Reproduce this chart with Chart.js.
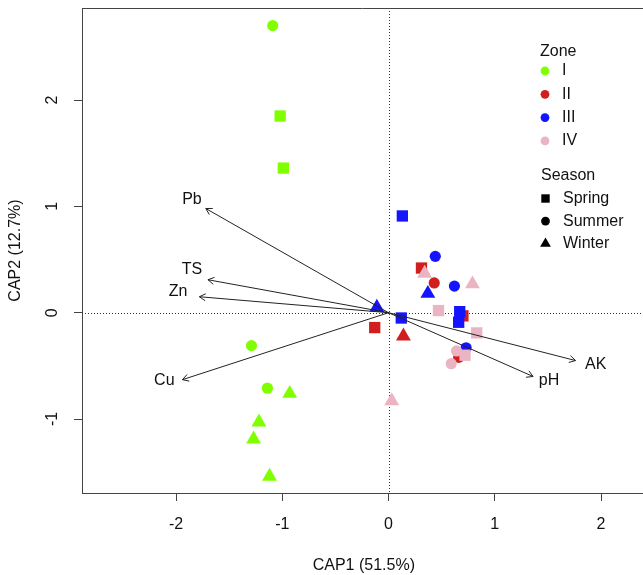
<!DOCTYPE html>
<html><head><meta charset="utf-8">
<style>html,body{margin:0;padding:0;background:#fff;overflow:hidden}#wrap{width:643px;height:575px}</style>
<script src="https://cdn.jsdelivr.net/npm/chart.js@4.4.0/dist/chart.umd.min.js"></script>
</head><body><div id="wrap"><canvas id="c" width="643" height="575"></canvas></div>
<script>
// ---- data ----
const zones = ['I', 'II', 'III', 'IV'];
const zoneColors = ['#7FFF00', '#D11F1F', '#1414FF', '#EBB4C3'];
const seasons = ['Spring', 'Summer', 'Winter'];
const seasonStyles = ['rect', 'circle', 'triangle'];

const zoneI_cap1 = [-1.02, -0.99, -1.09, -1.29, -1.14, -0.93, -1.22, -1.27, -1.12];
const zoneI_cap2 = [1.85, 1.36, 2.70, -0.31, -0.71, -0.76, -1.03, -1.19, -1.54];
const zoneI_season = ['Spring', 'Spring', 'Summer', 'Summer', 'Summer', 'Winter', 'Winter', 'Winter', 'Winter'];

const zoneII_cap1 = [0.31, 0.70, -0.13, 0.43, 0.66, 0.14];
const zoneII_cap2 = [0.42, -0.03, -0.14, 0.28, -0.42, -0.22];
const zoneII_season = ['Spring', 'Spring', 'Spring', 'Summer', 'Summer', 'Winter'];

const zoneIII_cap1 = [0.13, 0.67, 0.66, 0.12, 0.44, 0.62, 0.73, 0.37, -0.11];
const zoneIII_cap2 = [0.91, 0.01, -0.09, -0.05, 0.53, 0.25, -0.33, 0.18, 0.05];
const zoneIII_season = ['Spring', 'Spring', 'Spring', 'Spring', 'Summer', 'Summer', 'Summer', 'Winter', 'Winter'];

const zoneIV_cap1 = [0.47, 0.83, 0.72, 0.64, 0.59, 0.34, 0.79, 0.03];
const zoneIV_cap2 = [0.02, -0.19, -0.40, -0.36, -0.48, 0.37, 0.27, -0.83];
const zoneIV_season = ['Spring', 'Spring', 'Spring', 'Summer', 'Summer', 'Winter', 'Winter', 'Winter'];

const envVars = ['Pb', 'TS', 'Zn', 'Cu', 'AK', 'pH'];
const envCap1 = [-1.72, -1.70, -1.78, -1.94, 1.76, 1.36];
const envCap2 = [0.98, 0.31, 0.15, -0.63, -0.45, -0.60];
const envLabelCap1 = [-1.85, -1.85, -1.98, -2.11, 1.95, 1.51];
const envLabelCap2 = [1.06, 0.41, 0.20, -0.64, -0.49, -0.64];

const xTicks = [-2, -1, 0, 1, 2];
const yTicks = [-1, 0, 1, 2];
const xRange = [-2.885, 2.42];   // full plot range (right edge falls just outside the image)
const yRange = [-1.696, 2.866];
const xTitle = 'CAP1 (51.5%)';
const yTitle = 'CAP2 (12.7%)';

// ---- build datasets ----
const zoneData = [
  [zoneI_cap1, zoneI_cap2, zoneI_season],
  [zoneII_cap1, zoneII_cap2, zoneII_season],
  [zoneIII_cap1, zoneIII_cap2, zoneIII_season],
  [zoneIV_cap1, zoneIV_cap2, zoneIV_season]
];
// drawing layer (higher = drawn on top) for zone x season
const layer = {
  'I-Spring': 1, 'I-Summer': 1, 'I-Winter': 1,
  'II-Spring': 2, 'II-Winter': 3, 'IV-Winter': 4, 'II-Summer': 5,
  'III-Spring': 6, 'III-Winter': 7, 'III-Summer': 8,
  'IV-Spring': 9, 'IV-Summer': 10
};
const radiusFor = { rect: 8, circle: 5.6, triangle: 8.6 };
const datasets = [];
zones.forEach((z, zi) => {
  const [xs, ys, ss] = zoneData[zi];
  seasons.forEach((s, si) => {
    const pts = [];
    xs.forEach((v, i) => { if (ss[i] === s) pts.push({ x: v, y: ys[i] }); });
    if (!pts.length) return;
    const st = seasonStyles[si];
    datasets.push({
      label: z + ' ' + s, data: pts, pointStyle: st,
      pointRadius: radiusFor[st], pointHoverRadius: radiusFor[st],
      backgroundColor: zoneColors[zi], borderColor: zoneColors[zi], borderWidth: 0,
      showLine: false, order: 100 - layer[z + '-' + s]
    });
  });
});
envVars.forEach((v, i) => {
  datasets.push({
    label: v, data: [{ x: 0, y: 0 }, { x: envCap1[i], y: envCap2[i] }],
    showLine: true, borderColor: '#222', borderWidth: 1, pointRadius: 0, pointHoverRadius: 0, order: 0
  });
});

const F = '"Liberation Sans", Arial, Helvetica, sans-serif';
const overlay = {
  id: 'overlay',
  beforeDatasetsDraw(chart) {
    const { ctx, chartArea: a, scales: { x, y } } = chart;
    ctx.save();
    ctx.strokeStyle = '#333'; ctx.lineWidth = 1; ctx.setLineDash([1, 2]);
    const x0 = Math.round(x.getPixelForValue(0)) + 0.5, y0 = Math.round(y.getPixelForValue(0)) + 0.5;
    ctx.beginPath();
    ctx.moveTo(x0, a.top); ctx.lineTo(x0, a.bottom);
    ctx.moveTo(a.left, y0); ctx.lineTo(a.right, y0);
    ctx.stroke();
    ctx.restore();
  },
  afterDatasetsDraw(chart) {
    const { ctx, scales: { x, y } } = chart;
    ctx.save();
    ctx.strokeStyle = '#222'; ctx.lineWidth = 1;
    const ox = x.getPixelForValue(0), oy = y.getPixelForValue(0);
    envVars.forEach((v, i) => {
      const tx = x.getPixelForValue(envCap1[i]), ty = y.getPixelForValue(envCap2[i]);
      const ang = Math.atan2(ty - oy, tx - ox), L = 7, w = Math.PI / 6;
      ctx.beginPath();
      ctx.moveTo(tx - L * Math.cos(ang - w), ty - L * Math.sin(ang - w));
      ctx.lineTo(tx, ty);
      ctx.lineTo(tx - L * Math.cos(ang + w), ty - L * Math.sin(ang + w));
      ctx.stroke();
    });
    ctx.fillStyle = '#111'; ctx.font = '16px ' + F; ctx.textAlign = 'center'; ctx.textBaseline = 'middle';
    envVars.forEach((v, i) => {
      ctx.fillText(v, x.getPixelForValue(envLabelCap1[i]), y.getPixelForValue(envLabelCap2[i]));
    });
    ctx.restore();
  },
  afterDraw(chart) {
    const { ctx, chartArea: a, scales: { x, y } } = chart;
    ctx.save();
    // top frame line
    ctx.strokeStyle = '#444'; ctx.lineWidth = 1;
    ctx.beginPath(); ctx.moveTo(a.left, a.top + 0.5); ctx.lineTo(a.right, a.top + 0.5); ctx.stroke();
    ctx.fillStyle = '#111'; ctx.font = '16px ' + F; ctx.textAlign = 'center'; ctx.textBaseline = 'middle';
    // x tick labels
    xTicks.forEach(t => ctx.fillText(String(t), x.getPixelForValue(t), a.bottom + 32));
    // x title
    ctx.fillText(xTitle, x.getPixelForValue((xRange[0] + xRange[1]) / 2), a.bottom + 73);
    // y tick labels (rotated)
    yTicks.forEach(t => {
      ctx.save(); ctx.translate(a.left - 29, y.getPixelForValue(t)); ctx.rotate(-Math.PI / 2);
      ctx.fillText(String(t), 0, 0); ctx.restore();
    });
    ctx.save(); ctx.translate(a.left - 66, y.getPixelForValue((yRange[0] + yRange[1]) / 2)); ctx.rotate(-Math.PI / 2);
    ctx.fillText(yTitle, 0, 0); ctx.restore();
    // legend
    ctx.textAlign = 'left';
    ctx.fillText('Zone', 540, 52);
    zones.forEach((z, i) => {
      const cy = 71 + i * 23.3;
      ctx.fillStyle = zoneColors[i];
      ctx.beginPath(); ctx.arc(545, cy, 4.4, 0, Math.PI * 2); ctx.fill();
      ctx.fillStyle = '#111'; ctx.fillText(z, 562, cy);
    });
    ctx.fillText('Season', 541, 176);
    seasons.forEach((s, i) => {
      const cy = 198.5 + i * 22.6, cx = 545.5;
      ctx.fillStyle = '#000';
      ctx.beginPath();
      if (seasonStyles[i] === 'rect') ctx.rect(cx - 4.2, cy - 4.2, 8.4, 8.4);
      else if (seasonStyles[i] === 'circle') ctx.arc(cx, cy, 4.4, 0, Math.PI * 2);
      else { ctx.moveTo(cx, cy - 6.2); ctx.lineTo(cx + 5.4, cy + 3.1); ctx.lineTo(cx - 5.4, cy + 3.1); ctx.closePath(); }
      ctx.fill();
      ctx.fillStyle = '#111'; ctx.fillText(s, 563, cy);
    });
    ctx.restore();
  }
};

Chart.defaults.font.family = F;
new Chart(document.getElementById('c'), {
  type: 'scatter',
  data: { datasets },
  options: {
    responsive: false, animation: false, devicePixelRatio: 1,
    layout: { autoPadding: false, padding: { top: 8, left: 0, right: 0, bottom: 0 } },
    plugins: { legend: { display: false }, tooltip: { enabled: false } },
    events: [],
    scales: {
      x: {
        type: 'linear', position: 'bottom', min: xRange[0], max: 2.395,
        afterBuildTicks: s => { s.ticks = xTicks.map(v => ({ value: v })); },
        afterFit: s => { s.height = 82; },
        ticks: { display: false },
        grid: { drawOnChartArea: false, drawTicks: true, tickLength: 8, color: '#444', tickColor: '#444' },
        border: { display: true, color: '#444', width: 1 }
      },
      y: {
        type: 'linear', position: 'left', min: yRange[0], max: yRange[1],
        afterBuildTicks: s => { s.ticks = yTicks.map(v => ({ value: v })); },
        afterFit: s => { s.width = 82; },
        ticks: { display: false },
        grid: { drawOnChartArea: false, drawTicks: true, tickLength: 8, color: '#444', tickColor: '#444' },
        border: { display: true, color: '#444', width: 1 }
      }
    }
  },
  plugins: [overlay]
});
</script></body></html>
